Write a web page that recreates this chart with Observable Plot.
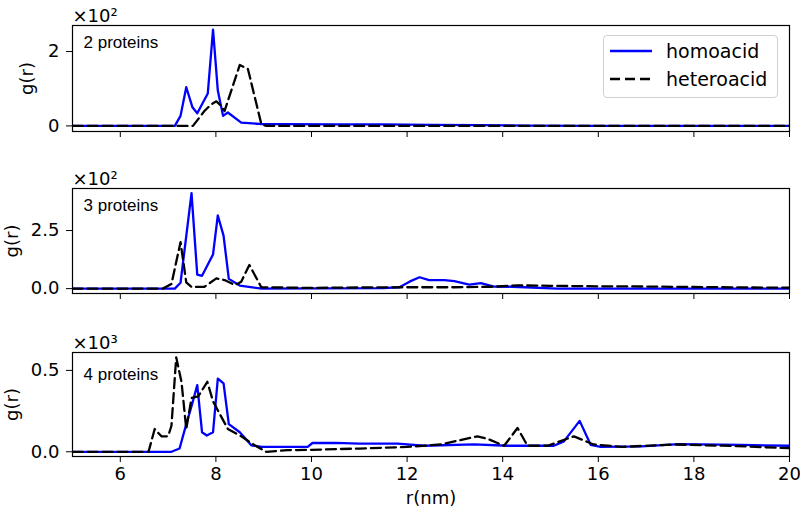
<!DOCTYPE html>
<html><head><meta charset="utf-8">
<script src="https://cdn.jsdelivr.net/npm/d3@7"></script>
<script src="https://cdn.jsdelivr.net/npm/@observablehq/plot@0.6"></script>
<style>
body{margin:0;background:#fff;font-family:"DejaVu Sans",sans-serif;}
#chart{position:relative;width:800px;height:515px;overflow:hidden;background:#fff}
#chart svg{display:block}
.legend{position:absolute;left:603px;top:35px;width:175px;height:63px;box-sizing:border-box;border:1px solid #d0d0d0;border-radius:4px;background:rgba(255,255,255,0.85);font-family:"DejaVu Sans",sans-serif;}
.legend .row{position:absolute;left:6px;height:24px;display:flex;align-items:center;font-size:19px;color:#000}
.legend .row svg{margin-right:14px}
</style></head><body><div id="chart"></div><script>
// ---- data ----
const seriesNames = ["homoacid", "heteroacid"];
const panelLabels = ["2 proteins", "3 proteins", "4 proteins"];
const scaleLabels = ["×10²", "×10²", "×10³"];
const xTicks = [6, 8, 10, 12, 14, 16, 18, 20];
const xLabel = "r(nm)";
const yLabel = "g(r)";

// panel 1 (units of 10^2)
const r1Homo = [5, 7.14, 7.26, 7.38, 7.51, 7.61, 7.83, 7.94, 8.04, 8.15, 8.25, 8.53, 8.96, 9.5, 10.5, 11.5, 12.5, 13.5, 14.5, 16, 18, 20];
const g1Homo = [0, 0, 0.27, 1.04, 0.5, 0.34, 0.87, 2.59, 0.95, 0.27, 0.36, 0.09, 0.05, 0.05, 0.04, 0.04, 0.03, 0.02, 0.01, 0, 0, 0];
const r1Het = [5, 7.52, 7.76, 7.9, 8.01, 8.1, 8.18, 8.5, 8.67, 8.95, 9.05, 20];
const g1Het = [0, 0, 0.4, 0.58, 0.66, 0.55, 0.4, 1.64, 1.53, 0.05, 0, 0];
const yTicks1 = [0, 2];
const yTickText1 = ["0", "2"];

// panel 2 (units of 10^2)
const r2Homo = [5, 7.14, 7.26, 7.49, 7.61, 7.71, 7.94, 8.04, 8.16, 8.27, 8.5, 8.96, 11.5, 11.84, 12.05, 12.26, 12.46, 12.78, 12.99, 13.3, 13.54, 13.82, 14.2, 15.15, 17, 20];
const g2Homo = [0, 0, 0.25, 4.11, 0.6, 0.55, 1.47, 3.15, 2.28, 0.42, 0.13, 0, 0.02, 0.06, 0.3, 0.49, 0.37, 0.37, 0.32, 0.17, 0.24, 0.09, 0.08, 0.0, 0.0, 0];
const r2Het = [5, 6.89, 7.07, 7.26, 7.38, 7.49, 7.76, 8.01, 8.18, 8.4, 8.53, 8.7, 8.95, 10, 11, 12, 13, 13.8, 14.3, 15, 16, 17, 18, 19, 20];
const g2Het = [0, 0, 0.2, 2.0, 0.27, 0.07, 0.08, 0.44, 0.37, 0.15, 0.3, 1.02, 0.06, 0.03, 0.05, 0.06, 0.06, 0.08, 0.14, 0.12, 0.1, 0.09, 0.07, 0.05, 0.04];
const yTicks2 = [0, 2.5];
const yTickText2 = ["0.0", "2.5"];

// panel 3 (units of 10^3)
const r3Homo = [5, 7.07, 7.24, 7.38, 7.49, 7.61, 7.71, 7.81, 7.94, 8.04, 8.16, 8.27, 8.5, 8.74, 8.96, 9.5, 9.92, 10.02, 10.5, 11, 11.8, 12.35, 13.4, 14.1, 15.07, 15.28, 15.61, 15.84, 16.05, 16.9, 17.7, 19, 20];
const g3Homo = [0, 0, 0.02, 0.17, 0.28, 0.41, 0.12, 0.1, 0.12, 0.45, 0.42, 0.17, 0.12, 0.04, 0.03, 0.03, 0.03, 0.054, 0.055, 0.05, 0.05, 0.037, 0.045, 0.037, 0.037, 0.064, 0.19, 0.043, 0.03, 0.033, 0.047, 0.042, 0.037];
const r3Het = [5, 6.59, 6.72, 6.86, 7.0, 7.07, 7.17, 7.28, 7.38, 7.49, 7.63, 7.82, 7.94, 8.25, 8.53, 8.81, 9.05, 9.5, 10, 11, 12, 12.71, 13.47, 13.68, 14.03, 14.31, 14.52, 14.94, 15.49, 15.9, 16.5, 17.57, 18.9, 20];
const g3Het = [0, 0, 0.14, 0.095, 0.095, 0.16, 0.58, 0.43, 0.14, 0.33, 0.34, 0.43, 0.31, 0.14, 0.095, 0.04, 0.0, 0.01, 0.012, 0.02, 0.03, 0.045, 0.095, 0.08, 0.037, 0.146, 0.037, 0.037, 0.095, 0.045, 0.03, 0.045, 0.035, 0.022];
const yTicks3 = [0, 0.5];
const yTickText3 = ["0.0", "0.5"];

// ---- drawing ----
const toRows = (rs, gs) => rs.map((r, i) => ({r, g: gs[i]}));

function panel(o) {
  const homo = toRows(o.homoR, o.homoG);
  const het = toRows(o.hetR, o.hetG);
  const marks = [
    Plot.axisX({ticks: xTicks, tickSize: 6, tickPadding: 5, label: null, fontSize: 18,
      tickFormat: o.showX ? d => String(d) : () => ""}),
    Plot.axisY({ticks: o.yTicks, tickSize: 6, tickPadding: 7, label: null, fontSize: 18,
      tickFormat: d => o.yTickText[o.yTicks.indexOf(d)]}),
    Plot.line(homo, {x: "r", y: "g", stroke: "#0000ff", strokeWidth: 2.3, clip: true}),
    Plot.line(het, {x: "r", y: "g", stroke: "#000", strokeWidth: 2.3, strokeDasharray: "10,5", clip: true}),
    Plot.frame({stroke: "#000", strokeWidth: 1.2}),
    Plot.text([o.label], {frameAnchor: "top-left", dx: 11, dy: o.labelDy, lineAnchor: "top", textAnchor: "start",
      fontFamily: "Liberation Sans", fontSize: 17}),
    Plot.text([o.scaleLabel], {frameAnchor: "top-left", dx: 0, dy: -4, lineAnchor: "bottom", textAnchor: "start", fontSize: 18}),
    Plot.text([yLabel], {frameAnchor: "left", dx: o.yLabelDx, rotate: -90, textAnchor: "middle", lineAnchor: "middle", fontSize: 18})
  ];
  if (o.showX) marks.push(Plot.text([xLabel], {frameAnchor: "bottom", dy: 42, lineAnchor: "middle", textAnchor: "middle", fontSize: 18}));
  return Plot.plot({
    width: 800, height: o.height, marginLeft: 72, marginRight: 11, marginTop: o.marginTop, marginBottom: o.marginBottom,
    style: {background: "transparent", fontFamily: "DejaVu Sans", fontSize: "18px", color: "#000", overflow: "visible"},
    x: {domain: [5, 20]},
    y: {domain: o.yDomain},
    marks
  });
}

const chart = document.getElementById("chart");
chart.appendChild(panel({homoR: r1Homo, homoG: g1Homo, hetR: r1Het, hetG: g1Het, yDomain: [-0.15, 2.70],
  yTicks: yTicks1, yTickText: yTickText1, label: panelLabels[0], scaleLabel: scaleLabels[0],
  height: 150, marginTop: 25, marginBottom: 19, showX: false, labelDy: 10, yLabelDx: -45}));
chart.appendChild(panel({homoR: r2Homo, homoG: g2Homo, hetR: r2Het, hetG: g2Het, yDomain: [-0.21, 4.31],
  yTicks: yTicks2, yTickText: yTickText2, label: panelLabels[1], scaleLabel: scaleLabels[1],
  height: 162, marginTop: 38, marginBottom: 19, showX: false, labelDy: 10, yLabelDx: -60}));
chart.appendChild(panel({homoR: r3Homo, homoG: g3Homo, hetR: r3Het, hetG: g3Het, yDomain: [-0.029, 0.61],
  yTicks: yTicks3, yTickText: yTickText3, label: panelLabels[2], scaleLabel: scaleLabels[2],
  height: 203, marginTop: 40, marginBottom: 59, showX: true, labelDy: 15, yLabelDx: -60}));

// legend
const legend = document.createElement("div");
legend.className = "legend";
const dashes = [null, "10,5"];
const colors = ["#0000ff", "#000"];
seriesNames.forEach((name, i) => {
  const row = document.createElement("div");
  row.className = "row";
  row.style.top = (3 + i * 28) + "px";
  row.innerHTML = `<svg width="42" height="10"><line x1="0" y1="5" x2="42" y2="5" stroke="${colors[i]}" stroke-width="2.3" ${dashes[i] ? `stroke-dasharray="${dashes[i]}"` : ""}/></svg><span>${name}</span>`;
  legend.appendChild(row);
});
chart.appendChild(legend);
</script></body></html>
